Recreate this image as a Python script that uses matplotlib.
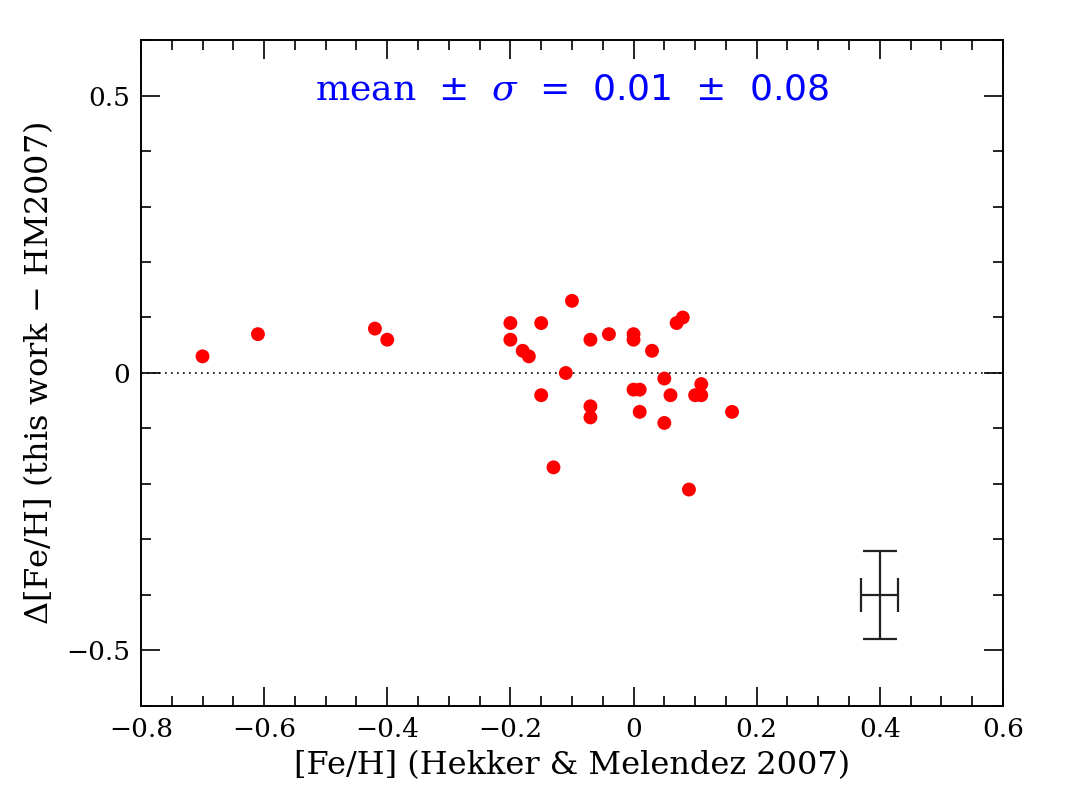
import numpy as np
import matplotlib
matplotlib.use("Agg")
import matplotlib.pyplot as plt
from matplotlib.ticker import MultipleLocator

# [Fe/H] from Hekker & Melendez 2007 and the difference (this work - HM2007)
feh_hm = [-0.70, -0.61, -0.42, -0.40, -0.20, -0.20, -0.18, -0.17, -0.15, -0.15,
          -0.11, -0.10, -0.13, -0.07, -0.07, -0.07, -0.04, 0.00, 0.00, 0.00,
          0.01, 0.01, 0.03, 0.05, 0.05, 0.06, 0.07, 0.08, 0.09, 0.10,
          0.11, 0.11, 0.16]
dfeh = [0.03, 0.07, 0.08, 0.06, 0.09, 0.06, 0.04, 0.03, 0.09, -0.04,
        0.00, 0.13, -0.17, 0.06, -0.06, -0.08, 0.07, 0.07, 0.06, -0.03,
        -0.03, -0.07, 0.04, -0.01, -0.09, -0.04, 0.09, 0.10, -0.21, -0.04,
        -0.04, -0.02, -0.07]

# typical error bar
err_x, err_y = 0.40, -0.40
err_dx, err_dy = 0.03, 0.08

mean_txt = "$\\mathrm{mean}$  \u00b1  $\\sigma$  =  0.01  \u00b1  0.08"

plt.rcParams['font.family'] = ['DejaVu Serif']
plt.rcParams['mathtext.fontset'] = 'dejavuserif'


def fmt(v, pos):
    if abs(v) < 1e-9:
        return "0"
    return f"{v:.1f}".replace("-", "\u2212")


fig = plt.figure(figsize=(10.67, 7.97), dpi=100)
ax = fig.add_axes([0.1321, 0.1142, 0.8079, 0.8356])

ax.axhline(0, color='black', lw=1.2, ls=(0, (1, 2.6)), zorder=1)
ax.scatter(feh_hm, dfeh, s=100, color='red', edgecolors='none', zorder=3)
ax.errorbar([err_x], [err_y], xerr=[err_dx], yerr=[err_dy], fmt='none',
            ecolor='#222222', elinewidth=1.6, capsize=12, capthick=1.6)

ax.text(0.5, 0.925, mean_txt, transform=ax.transAxes, ha='center', va='center',
        color='#0000ff', fontsize=26, family='DejaVu Sans',
        math_fontfamily='dejavuserif')

ax.set_xlim(-0.8, 0.6)
ax.set_ylim(-0.6, 0.6)
ax.xaxis.set_major_locator(MultipleLocator(0.2))
ax.xaxis.set_minor_locator(MultipleLocator(0.05))
ax.yaxis.set_major_locator(MultipleLocator(0.5))
ax.yaxis.set_minor_locator(MultipleLocator(0.1))
ax.xaxis.set_major_formatter(fmt)
ax.yaxis.set_major_formatter(fmt)

ax.tick_params(which='both', direction='in', top=True, right=True, width=1.2)
ax.tick_params(which='major', length=14, labelsize=19, pad=8)
ax.tick_params(which='minor', length=7)
for s in ax.spines.values():
    s.set_linewidth(1.4)

ax.set_xlabel("[Fe/H] (Hekker & Melendez 2007)", fontsize=23, labelpad=6)
ax.set_ylabel("$\\Delta$[Fe/H] (this work $-$ HM2007)", fontsize=23, labelpad=8)

fig.savefig("out.png", dpi=100)
